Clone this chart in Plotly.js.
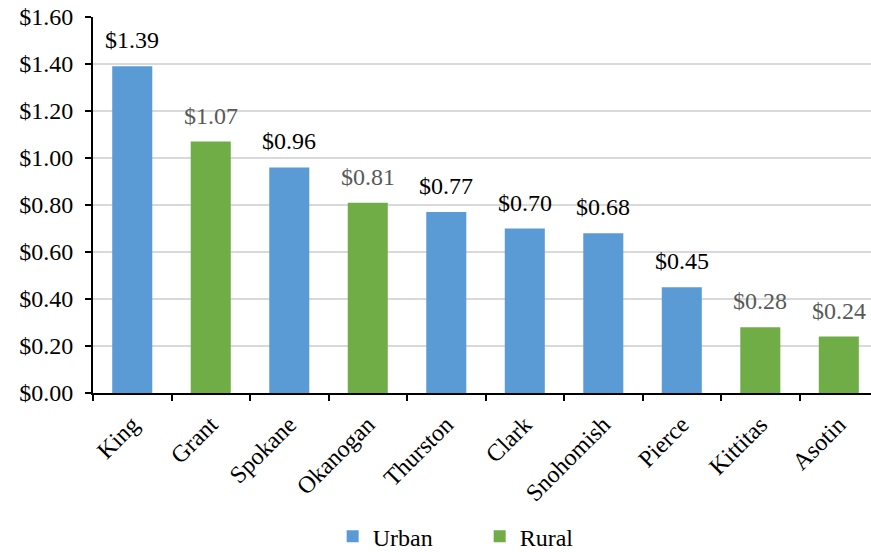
<!DOCTYPE html>
<html>
<head>
<meta charset="utf-8">
<script src="https://cdn.plot.ly/plotly-3.0.1.min.js"></script>
<style>html,body{margin:0;padding:0;background:#fff;}#chart{width:871px;height:552px;}</style>
</head>
<body>
<div id="chart"></div>
<script>
const categories = ["King","Grant","Spokane","Okanogan","Thurston","Clark","Snohomish","Pierce","Kittitas","Asotin"];
const values = [1.39, 1.07, 0.96, 0.81, 0.77, 0.70, 0.68, 0.45, 0.28, 0.24];
const types = ["Urban","Rural","Urban","Rural","Urban","Urban","Urban","Urban","Rural","Rural"];
const yTicks = [0, 0.2, 0.4, 0.6, 0.8, 1.0, 1.2, 1.4, 1.6];

const colors = {Urban: "#5B9BD5", Rural: "#70AD47"};
const labelColors = {Urban: "#000000", Rural: "#595959"};
const FONT = "Liberation Serif";
const FS = 24;

const traces = ["Urban","Rural"].map(t => {
  const xs = [], ys = [];
  categories.forEach((c,i) => { if (types[i] === t) { xs.push(c); ys.push(values[i]); } });
  return {type:"bar", name:t, x:xs, y:ys, width:0.51, marker:{color:colors[t]}, hoverinfo:"x+y"};
});

const annotations = categories.map((c,i) => ({
  x:c, y:values[i], xref:"x", yref:"y", text:"$" + values[i].toFixed(2),
  showarrow:false, yanchor:"bottom", yshift:11,
  font:{family:FONT, size:FS, color:labelColors[types[i]]}
}));

const layout = {
  width:871, height:552,
  margin:{l:93, r:0, t:17, b:159, pad:0},
  paper_bgcolor:"#fff", plot_bgcolor:"#fff",
  barmode:"overlay",
  font:{family:FONT, size:FS, color:"#000"},
  xaxis:{type:"category", categoryorder:"array", categoryarray:categories, automargin:false,
    range:[-0.5, 9.41], showline:true, linecolor:"#000", linewidth:2,
    ticks:"outside", tickson:"boundaries", ticklen:6, tickwidth:2, tickcolor:"#000",
    ticklabelstandoff:6,
    tickangle:-45, tickfont:{family:FONT, size:FS, color:"#000"}, showgrid:false, zeroline:false},
  yaxis:{range:[0,1.6], tickvals:yTicks, tickformat:"$.2f", automargin:false,
    showline:true, linecolor:"#000", linewidth:2,
    ticks:"outside", ticklen:6, tickwidth:2, tickcolor:"#000",
    ticklabelstandoff:7,
    gridcolor:"#d9d9d9", gridwidth:2, zeroline:false,
    tickfont:{family:FONT, size:FS, color:"#000"}},
  showlegend:true,
  legend:{orientation:"h", x:0.497, xanchor:"center", yref:"container", y:0.028, yanchor:"middle",
    entrywidth:102, entrywidthmode:"pixels",
    font:{family:FONT, size:FS, color:"#000"}},
  annotations:annotations
};

Plotly.newPlot("chart", traces, layout, {displayModeBar:false, staticPlot:true});
</script>
</body>
</html>
